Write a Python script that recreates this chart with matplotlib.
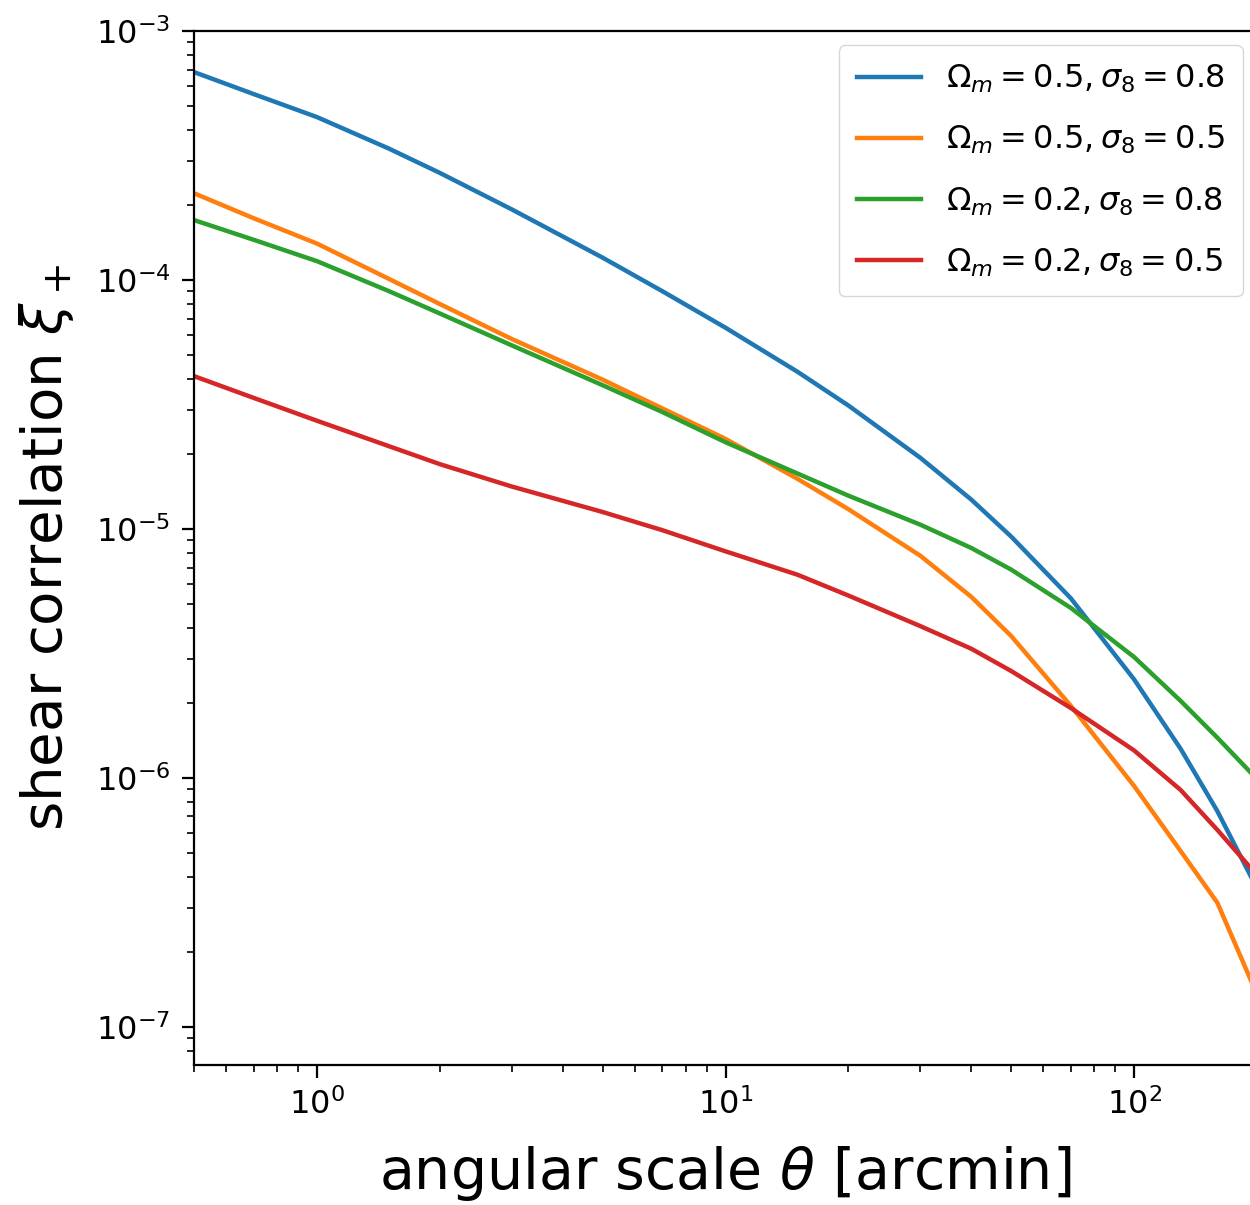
import matplotlib
matplotlib.use("Agg")
import matplotlib.pyplot as plt

# angular separations [arcmin]
theta = [0.5, 0.7, 1, 1.5, 2, 3, 5, 7, 10, 15, 20, 30, 40, 50, 70, 100, 130, 160, 200]

# shear correlation xi_+ for each cosmology
xi_om05_s08 = [6.84e-4, 5.58e-4, 4.51e-4, 3.37e-4, 2.69e-4, 1.92e-4, 1.23e-4, 9.02e-5,
               6.43e-5, 4.28e-5, 3.13e-5, 1.93e-5, 1.31e-5, 9.33e-6, 5.27e-6, 2.49e-6,
               1.31e-6, 7.35e-7, 3.60e-7]
xi_om05_s05 = [2.23e-4, 1.77e-4, 1.40e-4, 1.01e-4, 8.00e-5, 5.79e-5, 3.98e-5, 3.05e-5,
               2.30e-5, 1.59e-5, 1.20e-5, 7.80e-6, 5.33e-6, 3.72e-6, 1.95e-6, 9.29e-7,
               5.09e-7, 3.15e-7, 1.35e-7]
xi_om02_s08 = [1.74e-4, 1.45e-4, 1.19e-4, 9.02e-5, 7.33e-5, 5.46e-5, 3.78e-5, 2.95e-5,
               2.23e-5, 1.67e-5, 1.36e-5, 1.04e-5, 8.38e-6, 6.87e-6, 4.82e-6, 3.06e-6,
               2.04e-6, 1.45e-6, 9.89e-7]
xi_om02_s05 = [4.11e-5, 3.36e-5, 2.72e-5, 2.15e-5, 1.82e-5, 1.48e-5, 1.17e-5, 9.89e-6,
               8.13e-6, 6.55e-6, 5.40e-6, 4.07e-6, 3.30e-6, 2.69e-6, 1.91e-6, 1.29e-6,
               8.95e-7, 6.18e-7, 4.07e-7]

series = [xi_om05_s08, xi_om05_s05, xi_om02_s08, xi_om02_s05]
labels = [r"$\Omega_m = 0.5, \sigma_8 = 0.8$",
          r"$\Omega_m = 0.5, \sigma_8 = 0.5$",
          r"$\Omega_m = 0.2, \sigma_8 = 0.8$",
          r"$\Omega_m = 0.2, \sigma_8 = 0.5$"]
colors = ["#1f77b4", "#ff7f0e", "#2ca02c", "#d62728"]

fig = plt.figure(figsize=(12.5, 12.05), dpi=100)
ax = fig.add_axes([194 / 1250, 1 - 1065 / 1205, (1257 - 194) / 1250, (1065 - 31) / 1205])

for y, lab, c in zip(series, labels, colors):
    ax.plot(theta, y, color=c, lw=3.2, label=lab)

ax.set_xscale("log")
ax.set_yscale("log")
ax.set_xlim(0.5, 200)
ax.set_ylim(7.03e-8, 1e-3)

for side in ax.spines.values():
    side.set_linewidth(1.6)
ax.tick_params(which="major", length=9, width=1.6, labelsize=23, pad=8)
ax.tick_params(which="minor", length=5, width=1.2)

ax.set_xlabel(r"angular scale $\theta$ [arcmin]", fontsize=41, labelpad=16)
ax.set_ylabel(r"shear correlation $\xi_+$", fontsize=40.5, labelpad=14)

ax.legend(loc="upper right", fontsize=23, borderaxespad=0.45, borderpad=0.55,
          labelspacing=0.9, handletextpad=0.8)

fig.savefig("out.png", dpi=100)
